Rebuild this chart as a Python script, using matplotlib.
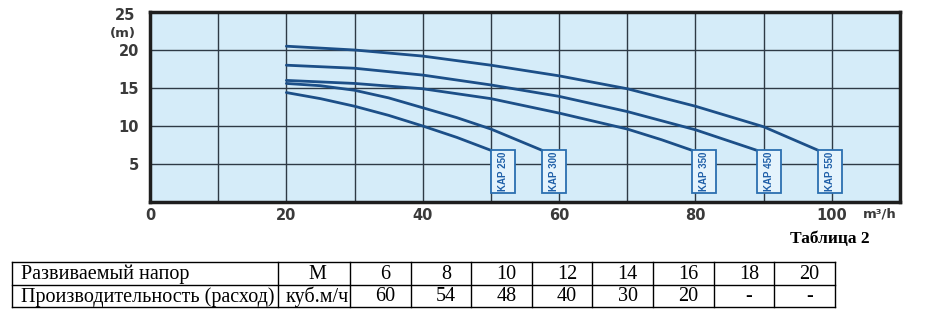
import matplotlib.pyplot as plt
from matplotlib.patches import Rectangle

# кривые насосов KAP (расход м3/ч, напор м)
models = ["KAP 250", "KAP 300", "KAP 350", "KAP 450", "KAP 550"]
q_250 = [20, 25, 30, 35, 40, 45, 50]
h_250 = [14.4, 13.6, 12.6, 11.4, 10.0, 8.5, 6.8]
q_300 = [20, 25, 30, 35, 40, 45, 50, 57.5]
h_300 = [15.6, 15.3, 14.7, 13.7, 12.4, 11.1, 9.6, 6.8]
q_350 = [20, 30, 40, 50, 60, 70, 75, 79.5]
h_350 = [16.0, 15.6, 14.9, 13.6, 11.7, 9.6, 8.2, 6.8]
q_450 = [20, 30, 40, 50, 60, 70, 80, 89]
h_450 = [18.0, 17.6, 16.7, 15.4, 13.9, 11.9, 9.5, 6.8]
q_550 = [20, 30, 40, 50, 60, 70, 80, 90, 98]
h_550 = [20.5, 20.0, 19.2, 18.0, 16.6, 14.9, 12.6, 9.9, 6.8]
curves = [(q_250, h_250), (q_300, h_300), (q_350, h_350), (q_450, h_450), (q_550, h_550)]

xticks = [0, 20, 40, 60, 80, 100]
yticks = [5, 10, 15, 20]

# таблица 2
row_names = ["Развиваемый напор", "Производительность (расход)"]
units = ["М", "куб.м/ч"]
head = ["6", "8", "10", "12", "14", "16", "18", "20"]
flow = ["60", "54", "48", "40", "30", "20", "-", "-"]

bg = "#d5ecf9"
line_c = "#1c4f88"
grid_c = "#2e3a46"
txt_c = "#3a3a3a"

fig = plt.figure(figsize=(9.25, 3.15), dpi=100)
ax = fig.add_axes([150 / 925, 1 - 202 / 315, 750 / 925, 190 / 315])
ax.set_facecolor(bg)
ax.set_xlim(0, 110)
ax.set_ylim(0, 25)
ax.set_xticks(range(0, 111, 10))
ax.set_yticks(range(0, 26, 5))
ax.grid(True, color=grid_c, lw=1.0)
ax.tick_params(length=0, labelsize=10.5, labelcolor=txt_c, pad=4)
ax.set_xticklabels([str(t) if t in xticks else "" for t in range(0, 111, 10)], fontweight="bold")
ax.set_yticklabels([str(t) if t in yticks else "" for t in range(0, 26, 5)], fontweight="bold")
ax.tick_params(axis="y", pad=8)
for s in ax.spines.values():
    s.set_linewidth(2.5)
    s.set_color("#1e1e1e")
# подпись 25 и единица (m) вверху оси
ax.text(-2.1, 24.5, "25", ha="right", va="center", fontsize=10.5, fontweight="bold", color=txt_c)
ax.text(-2.1, 22.2, "(m)", ha="right", va="center", fontsize=9.5, fontweight="bold", color=txt_c)
ax.text(107, -1.55, "m³/h", ha="center", va="center", fontsize=9.5, fontweight="bold", color=txt_c,
        clip_on=False)

bw, bh = 3.5, 5.6
for name, (q, h) in zip(models, curves):
    ax.plot(q, h, color=line_c, lw=2, solid_capstyle="round", zorder=3)
    x0, y0 = q[-1], h[-1]
    ax.add_patch(Rectangle((x0, y0 - bh), bw, bh, facecolor="#e4f3fc", edgecolor="#2b6fb0",
                           lw=1.3, zorder=4))
    ax.text(x0 + bw / 2, y0 - bh / 2, name, rotation=90, ha="center", va="center",
            fontsize=7, fontweight="bold", color="#1f5fa8", zorder=5,
            family="Liberation Sans")

fig.text(830 / 925, 1 - 239 / 315, "Таблица 2", ha="center", va="center", fontsize=12.5,
         fontweight="bold", family="Liberation Serif")

# таблица в пикселях
tab = fig.add_axes([0, 0, 1, 1])
tab.set_xlim(0, 925)
tab.set_ylim(315, 0)
tab.axis("off")
tab.patch.set_alpha(0)
cols = [12, 278, 350] + [350 + 60.6 * (i + 1) for i in range(8)]
rows = [262, 284.5, 307]
for y in rows:
    tab.plot([cols[0], cols[-1]], [y, y], color="black", lw=1)
for x in cols:
    tab.plot([x, x], [rows[0], rows[-1]], color="black", lw=1)
font = dict(family="Liberation Serif", fontsize=14.5, va="center")
for r in range(2):
    yc = (rows[r] + rows[r + 1]) / 2 + 1
    tab.text(cols[0] + 9, yc, row_names[r], ha="left", **font)
    tab.text((cols[1] + cols[2]) / 2 + 3, yc, units[r], ha="center", **font)
    vals = head if r == 0 else flow
    for i, v in enumerate(vals):
        tab.text((cols[i + 2] + cols[i + 3]) / 2 + 5, yc, v, ha="center", **font)

fig.savefig("out.png", dpi=100)
